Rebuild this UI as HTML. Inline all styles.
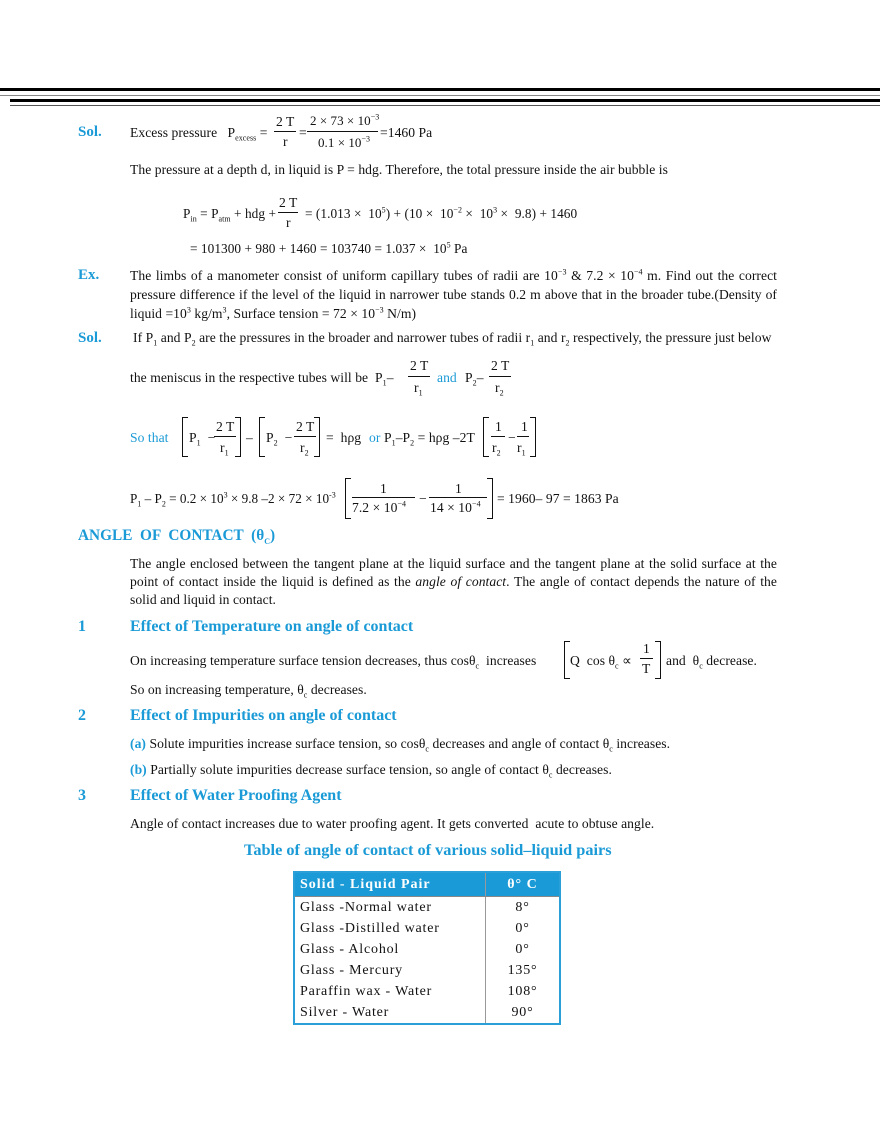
<!DOCTYPE html>
<html><head><meta charset="utf-8"><style>
body{margin:0;background:#fff}
#p{position:relative;width:880px;height:1139px;overflow:hidden;font-family:"Liberation Serif",serif;font-size:13.6px;letter-spacing:0.05px;color:#111}
.t{position:absolute;white-space:nowrap;line-height:14px}
.b{color:#1a9ad6}
.h{color:#1a9ad6;font-weight:bold;font-size:16px;letter-spacing:0}
.ln{position:absolute;height:1px;background:#111}
.br{position:absolute;width:5px;border:1px solid #111;border-right:none}
.bl{position:absolute;width:5px;border:1px solid #111;border-left:none}
sub,sup{font-size:8px;line-height:0}
.j{position:absolute;left:130px;width:647px;text-align:justify;line-height:18px}
table{position:absolute;left:293px;top:871px;width:268px;border-collapse:collapse;border:2px solid #2a9fd8;font-size:14px;letter-spacing:0.8px}
td{height:21px;padding:0 5px;line-height:21px}
td+td{border-left:1px solid #999;text-align:center}
tr.hd td{background:#1a9ad6;color:#fff;font-weight:bold;height:23px;border-bottom:1px solid #888;letter-spacing:1px}
</style></head><body><div id="p">
<div style="position:absolute;left:0;top:88px;width:880px;height:3px;background:#000"></div>
<div style="position:absolute;left:0;top:95px;width:880px;height:1px;background:#888"></div>
<div style="position:absolute;left:10px;top:99px;width:870px;height:3px;background:#000"></div>
<div style="position:absolute;left:10px;top:105px;width:870px;height:1px;background:#555"></div>

<div class="t h" style="left:78px;top:125px;font-size:15px">Sol.</div>
<div class="t" style="left:130px;top:126px">Excess pressure&nbsp;&nbsp; P<sub>excess</sub> =</div>
<div class="t" style="left:276px;top:115px">2 T</div><div class="ln" style="left:274px;top:131px;width:22px"></div><div class="t" style="left:283px;top:135px">r</div>
<div class="t" style="left:299px;top:126px">=</div>
<div class="t" style="left:310px;top:114px;font-size:13px">2 × 73 × 10<sup>−3</sup></div><div class="ln" style="left:307px;top:131px;width:71px"></div><div class="t" style="left:318px;top:136px;font-size:13px">0.1 × 10<sup>−3</sup></div>
<div class="t" style="left:380px;top:126px">=1460 Pa</div>

<div class="t" style="left:130px;top:163px">The pressure at a depth d, in liquid is P = hdg. Therefore, the total pressure inside the air bubble is</div>

<div class="t" style="left:183px;top:207px;font-size:13.3px">P<sub>in</sub> = P<sub>atm</sub> + hdg +</div>
<div class="t" style="left:279px;top:196px">2 T</div><div class="ln" style="left:278px;top:212px;width:20px"></div><div class="t" style="left:286px;top:216px">r</div>
<div class="t" style="left:305px;top:207px;font-size:13.3px">= (1.013 × &nbsp;10<sup>5</sup>) + (10 × &nbsp;10<sup>−2</sup> × &nbsp;10<sup>3</sup> × &nbsp;9.8) + 1460</div>
<div class="t" style="left:190px;top:242px;font-size:13.3px">= 101300 + 980 + 1460 = 103740 = 1.037 × &nbsp;10<sup>5</sup> Pa</div>

<div class="t h" style="left:78px;top:268px;font-size:15px">Ex.</div>
<div class="j" style="top:266px;line-height:19px">The limbs of a manometer consist of uniform capillary tubes of radii are 10<sup>−3</sup> &amp; 7.2 × 10<sup>−4</sup> m. Find out the correct pressure difference if the level of the liquid in narrower tube stands 0.2 m above that in the broader tube.(Density of liquid =10<sup>3</sup> kg/m<sup>3</sup>, Surface tension = 72 × 10<sup>−3</sup> N/m)</div>

<div class="t h" style="left:78px;top:331px;font-size:15px">Sol.</div>
<div class="t" style="left:133px;top:331px">If P<sub>1</sub> and P<sub>2</sub> are the pressures in the broader and narrower tubes of radii r<sub>1</sub> and r<sub>2</sub> respectively, the pressure just below</div>

<div class="t" style="left:130px;top:371px">the meniscus in the respective tubes will be &nbsp;P<sub>1</sub>–</div>
<div class="t" style="left:410px;top:359px">2 T</div><div class="ln" style="left:408px;top:376px;width:22px"></div><div class="t" style="left:414px;top:381px">r<sub>1</sub></div>
<div class="t b" style="left:437px;top:371px">and</div>
<div class="t" style="left:465px;top:371px">P<sub>2</sub>–</div>
<div class="t" style="left:491px;top:359px">2 T</div><div class="ln" style="left:489px;top:376px;width:22px"></div><div class="t" style="left:495px;top:381px">r<sub>2</sub></div>

<div class="t b" style="left:130px;top:431px">So that</div>
<div class="br" style="left:182px;top:417px;height:38px"></div>
<div class="t" style="left:189px;top:431px">P<sub>1</sub> &nbsp;−</div>
<div class="t" style="left:216px;top:420px">2 T</div><div class="ln" style="left:214px;top:436px;width:22px"></div><div class="t" style="left:220px;top:441px">r<sub>1</sub></div>
<div class="bl" style="left:235px;top:417px;height:38px"></div>
<div class="t" style="left:246px;top:431px">–</div>
<div class="br" style="left:259px;top:417px;height:38px"></div>
<div class="t" style="left:266px;top:431px">P<sub>2</sub> &nbsp;−</div>
<div class="t" style="left:296px;top:420px">2 T</div><div class="ln" style="left:294px;top:436px;width:22px"></div><div class="t" style="left:300px;top:441px">r<sub>2</sub></div>
<div class="bl" style="left:314px;top:417px;height:38px"></div>
<div class="t" style="left:326px;top:431px">= &nbsp;hρg</div>
<div class="t b" style="left:369px;top:431px">or</div>
<div class="t" style="left:384px;top:431px">P<sub>1</sub>–P<sub>2</sub> = hρg –2T</div>
<div class="br" style="left:483px;top:417px;height:38px"></div>
<div class="t" style="left:495px;top:420px">1</div><div class="ln" style="left:491px;top:436px;width:14px"></div><div class="t" style="left:492px;top:441px">r<sub>2</sub></div>
<div class="t" style="left:508px;top:431px">−</div>
<div class="t" style="left:521px;top:420px">1</div><div class="ln" style="left:517px;top:436px;width:12px"></div><div class="t" style="left:517px;top:441px">r<sub>1</sub></div>
<div class="bl" style="left:530px;top:417px;height:38px"></div>

<div class="t" style="left:130px;top:492px;font-size:13.2px;letter-spacing:0">P<sub>1</sub> – P<sub>2</sub> = 0.2 × 10<sup>3</sup> × 9.8 –2 × 72 × 10<sup>-3</sup></div>
<div class="br" style="left:345px;top:478px;height:39px"></div>
<div class="t" style="left:380px;top:482px">1</div><div class="ln" style="left:352px;top:497px;width:63px"></div><div class="t" style="left:352px;top:501px">7.2 × 10<sup>−4</sup></div>
<div class="t" style="left:419px;top:492px">−</div>
<div class="t" style="left:455px;top:482px">1</div><div class="ln" style="left:429px;top:497px;width:58px"></div><div class="t" style="left:430px;top:501px">14 × 10<sup>−4</sup></div>
<div class="bl" style="left:487px;top:478px;height:39px"></div>
<div class="t" style="left:497px;top:492px">= 1960– 97 = 1863 Pa</div>

<div class="t h" style="left:78px;top:529px;font-size:15.3px">ANGLE &nbsp;OF &nbsp;CONTACT &nbsp;(θ<sub>C</sub>)</div>
<div class="j" style="top:555px">The angle enclosed between the tangent plane at the liquid surface and the tangent plane at the solid surface at the point of contact inside the liquid is defined as the <i>angle of contact</i>. The angle of contact depends the nature of the solid and liquid in contact.</div>

<div class="t h" style="left:78px;top:620px">1</div>
<div class="t h" style="left:130px;top:620px">Effect of Temperature on angle of contact</div>
<div class="t" style="left:130px;top:654px">On increasing temperature surface tension decreases, thus cosθ<sub>c</sub> &nbsp;increases</div>
<div class="br" style="left:564px;top:641px;height:36px"></div>
<div class="t" style="left:570px;top:654px">Q &nbsp;cos θ<sub>c</sub> ∝</div>
<div class="t" style="left:643px;top:642px">1</div><div class="ln" style="left:640px;top:658px;width:13px"></div><div class="t" style="left:642px;top:662px">T</div>
<div class="bl" style="left:655px;top:641px;height:36px"></div>
<div class="t" style="left:666px;top:654px">and &nbsp;θ<sub>c</sub> decrease.</div>
<div class="t" style="left:130px;top:683px">So on increasing temperature, θ<sub>c</sub> decreases.</div>

<div class="t h" style="left:78px;top:709px">2</div>
<div class="t h" style="left:130px;top:709px">Effect of Impurities on angle of contact</div>
<div class="t" style="left:130px;top:737px"><b class="b">(a)</b> Solute impurities increase surface tension, so cosθ<sub>c</sub> decreases and angle of contact θ<sub>c</sub> increases.</div>
<div class="t" style="left:130px;top:763px"><b class="b">(b)</b> Partially solute impurities decrease surface tension, so angle of contact θ<sub>c</sub> decreases.</div>

<div class="t h" style="left:78px;top:789px">3</div>
<div class="t h" style="left:130px;top:789px">Effect of Water Proofing Agent</div>
<div class="t" style="left:130px;top:817px">Angle of contact increases due to water proofing agent. It gets converted &nbsp;acute to obtuse angle.</div>

<div class="t h" style="left:244px;top:843px;font-size:16.3px">Table of angle of contact of various solid–liquid pairs</div>

<table>
<tr class="hd"><td style="width:180px">Solid - Liquid Pair</td><td>θ° C</td></tr>
<tr><td>Glass -Normal water</td><td>8°</td></tr>
<tr><td>Glass -Distilled water</td><td>0°</td></tr>
<tr><td>Glass - Alcohol</td><td>0°</td></tr>
<tr><td>Glass - Mercury</td><td>135°</td></tr>
<tr><td>Paraffin wax - Water</td><td>108°</td></tr>
<tr><td>Silver - Water</td><td>90°</td></tr>
</table>
</div></body></html>
